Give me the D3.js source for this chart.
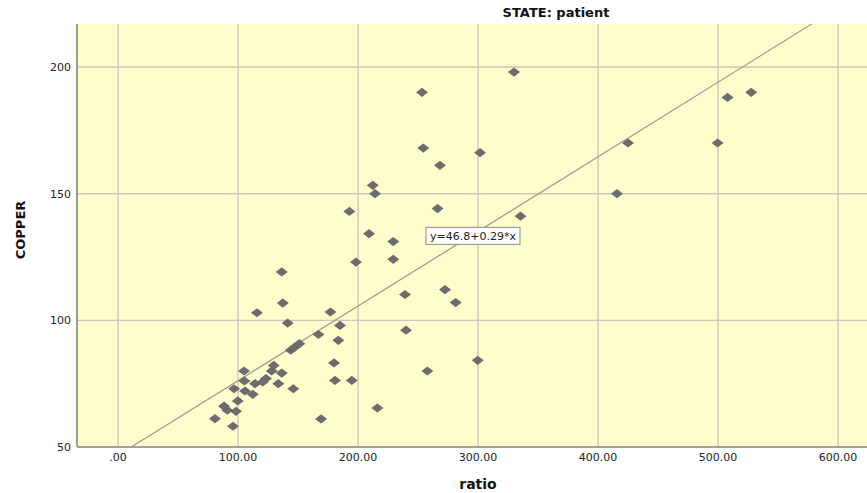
<!DOCTYPE html>
<html>
<head>
<meta charset="utf-8">
<script src="https://d3js.org/d3.v7.min.js"></script>
<style>
  body { margin: 0; background: #fff; }
  text { font-family: "DejaVu Sans", sans-serif; }
</style>
</head>
<body>
<svg id="chart" width="867" height="493"></svg>
<script>
// ratio vs copper
var ratio = [137.3, 115.8, 141.4, 151.1, 147.5, 143.9, 105.0, 129.8, 128.1, 136.4,
             123.3, 120.6, 105.3, 114.2, 133.6, 146.1, 96.7, 105.8, 112.3, 99.8,
             88.3, 91.1, 98.3, 80.8, 95.8, 136.4, 177.0, 167.0, 169.2, 185.0,
             183.6, 180.0, 180.8, 194.8, 216.1, 239.2, 272.5, 281.4, 240.0, 299.8,
             257.8, 268.3, 212.3, 214.2, 192.8, 266.3, 335.4, 209.2, 229.4, 229.4,
             198.3, 254.4, 301.7, 330.0, 253.3, 425.0, 499.7, 508.0, 527.7, 415.8];
var copper = [106.8, 103.0, 98.9, 90.8, 89.5, 88.2, 80.0, 82.2, 80.0, 79.2,
              77.0, 75.7, 76.1, 75.0, 75.0, 73.0, 73.0, 72.1, 70.8, 68.2,
              66.1, 64.5, 64.1, 61.2, 58.2, 119.1, 103.3, 94.4, 61.1, 98.0,
              92.1, 83.2, 76.3, 76.3, 65.4, 110.2, 112.1, 107.0, 96.1, 84.2,
              80.0, 161.2, 153.3, 150.0, 143.0, 144.1, 141.1, 134.2, 131.1, 124.1,
              123.0, 168.0, 166.2, 198.0, 190.0, 170.0, 170.0, 188.0, 190.0, 150.0];

var xticks = [0, 100, 200, 300, 400, 500, 600];
var yticks = [50, 100, 150, 200];

// fit line as drawn (label is rounded)
var intercept = 46.75;
var slope = 0.2945;
var fitlabel = "y=46.8+0.29*x";
var title = "STATE: patient";

var svg = d3.select("#chart");

var x = d3.scaleLinear().domain([-34.2, 624.2]).range([77, 867]);
var y = d3.scaleLinear().domain([50, 216.98]).range([447, 24]);

// plot background
svg.append("rect")
  .attr("x", x.range()[0])
  .attr("y", y.range()[1])
  .attr("width", x.range()[1] - x.range()[0])
  .attr("height", y.range()[0] - y.range()[1])
  .attr("fill", "#fffdcc");

// grid lines
svg.append("g").selectAll("line")
  .data(xticks)
  .enter().append("line")
    .attr("x1", function(d) { return x(d); })
    .attr("x2", function(d) { return x(d); })
    .attr("y1", y.range()[0])
    .attr("y2", y.range()[1])
    .attr("stroke", "#c9c8bd")
    .attr("stroke-width", 1.4);

svg.append("g").selectAll("line")
  .data(yticks)
  .enter().append("line")
    .attr("x1", x.range()[0])
    .attr("x2", x.range()[1])
    .attr("y1", function(d) { return y(d); })
    .attr("y2", function(d) { return y(d); })
    .attr("stroke", "#c9c8bd")
    .attr("stroke-width", 1.4);

// axis lines
svg.append("line")
  .attr("x1", x.range()[0]).attr("x2", x.range()[1])
  .attr("y1", y.range()[0]).attr("y2", y.range()[0])
  .attr("stroke", "#8f8f86").attr("stroke-width", 1.6);
svg.append("line")
  .attr("x1", x.range()[0]).attr("x2", x.range()[0])
  .attr("y1", y.range()[0]).attr("y2", y.range()[1])
  .attr("stroke", "#9d9d94").attr("stroke-width", 2);

// tick labels
svg.append("g").selectAll("text")
  .data(xticks)
  .enter().append("text")
    .attr("x", function(d) { return x(d); })
    .attr("y", 461)
    .attr("text-anchor", "middle")
    .attr("font-size", "11px")
    .attr("fill", "#222")
    .text(function(d) { return d == 0 ? ".00" : d3.format(".2f")(d); });

svg.append("g").selectAll("text")
  .data(yticks)
  .enter().append("text")
    .attr("x", 71)
    .attr("y", function(d) { return y(d) + 4; })
    .attr("text-anchor", "end")
    .attr("font-size", "11px")
    .attr("fill", "#222")
    .text(function(d) { return d; });

// regression line, clipped to the plot
var x0 = (y.domain()[0] - intercept) / slope;
var x1 = (y.domain()[1] - intercept) / slope;
svg.append("line")
  .attr("x1", x(x0)).attr("y1", y(intercept + slope * x0))
  .attr("x2", x(x1)).attr("y2", y(intercept + slope * x1))
  .attr("stroke", "#9a9a92")
  .attr("stroke-width", 1.2);

// diamonds
var pts = ratio.map(function(r, i) { return [r, copper[i]]; });
svg.append("g").selectAll("path")
  .data(pts)
  .enter().append("path")
    .attr("d", function(d) {
      var cx = x(d[0]), cy = y(d[1]);
      return "M" + (cx - 6) + "," + cy + "L" + cx + "," + (cy - 4.6) +
             "L" + (cx + 6) + "," + cy + "L" + cx + "," + (cy + 4.6) + "Z";
    })
    .attr("fill", "#6c6c6c");

// fit label box
var lx = 256.7, ly = 136.7;
var lab = svg.append("g").attr("transform", "translate(" + x(lx) + "," + y(ly) + ")");
var labtext = lab.append("text")
  .attr("x", 4)
  .attr("y", 13)
  .attr("font-size", "11px")
  .attr("fill", "#222")
  .text(fitlabel);
var bw = labtext.node().getComputedTextLength() + 8;
lab.insert("rect", "text")
  .attr("width", bw)
  .attr("height", 17)
  .attr("fill", "#fff")
  .attr("stroke", "#8a8a8a")
  .attr("stroke-width", 1);

// titles
svg.append("text")
  .attr("x", 556)
  .attr("y", 17)
  .attr("text-anchor", "middle")
  .attr("font-size", "13px")
  .attr("font-weight", "bold")
  .attr("fill", "#111")
  .text(title);

svg.append("text")
  .attr("x", 478)
  .attr("y", 489)
  .attr("text-anchor", "middle")
  .attr("font-size", "14px")
  .attr("font-weight", "bold")
  .attr("fill", "#111")
  .text("ratio");

svg.append("text")
  .attr("transform", "translate(25,230) rotate(-90)")
  .attr("text-anchor", "middle")
  .attr("font-size", "13px")
  .attr("font-weight", "bold")
  .attr("fill", "#111")
  .text("COPPER");
</script>
</body>
</html>
